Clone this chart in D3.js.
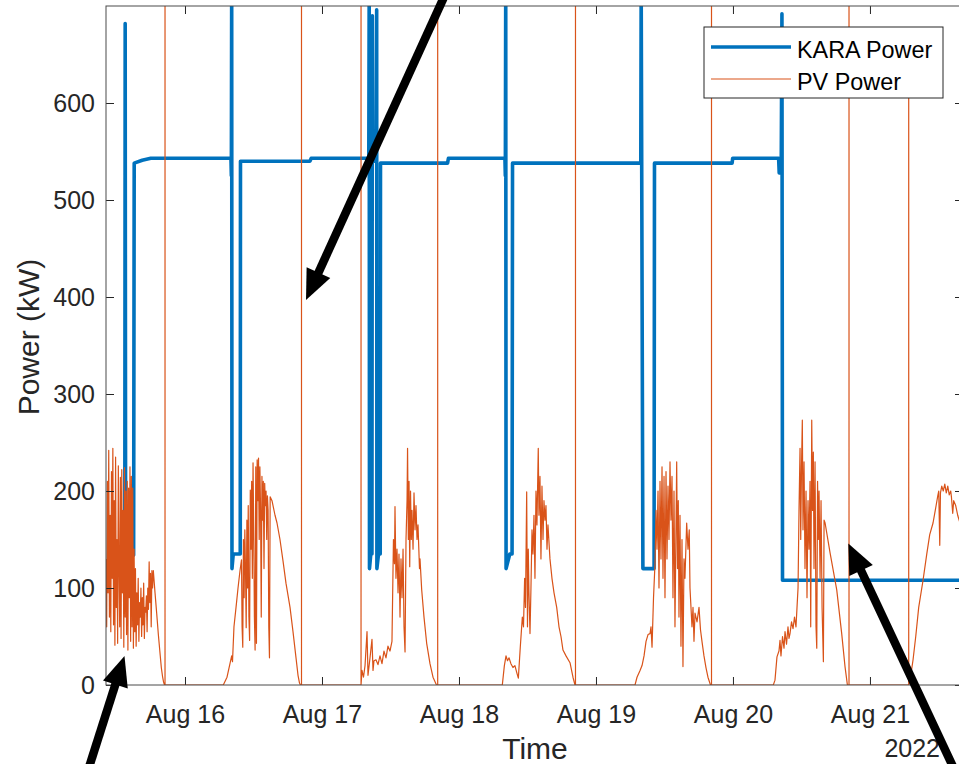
<!DOCTYPE html>
<html lang="en">
<head>
<meta charset="utf-8">
<title>KARA Power and PV Power</title>
<script src="https://cdn.jsdelivr.net/npm/d3@7"></script>
<style>
  body { margin: 0; background: #fff; }
  svg { display: block; font-family: "Liberation Sans", Arial, Helvetica, sans-serif; }
</style>
</head>
<body>
<script>
// times are hours after 15 Aug 2022 00:00
var start = new Date(2022, 7, 15);
var timeWindow = [10.16, 160.3];
var powerDomain = [0, 700];
var powerTicks = [0, 100, 200, 300, 400, 500, 600];
var dayTicks = [24, 48, 72, 96, 120, 144];
var dayLabels = ["Aug 16", "Aug 17", "Aug 18", "Aug 19", "Aug 20", "Aug 21"];
var yearLabel = "2022";
var seriesNames = ["KARA Power", "PV Power"];

// [hour, kW]
var karaPower = [
  [13.45,113],[13.52,682],[13.60,113],[14.30,130],[15.00,134],[15.10,538],[16.5,541],[18.0,543],
  [32.05,543],[32.12,525],[32.18,720],[32.23,120],[32.45,135],[33.68,135],[33.72,540],
  [45.90,540],[46.10,543],[56.20,543],[56.27,720],[56.32,120],[56.55,135],[56.75,135],
  [56.82,690],[56.90,540],[57.50,540],[57.58,696],[57.62,120],[57.90,135],[58.20,135],[58.25,538],
  [70.00,538],[70.15,543],[80.05,543],[80.12,525],[80.19,720],[80.25,120],[80.90,135],[81.30,135],[81.38,538],
  [103.85,538],[103.92,720],[104.22,120],[106.18,120],[106.25,538],
  [119.85,538],[119.95,543],[128.00,543],[128.10,528],[128.45,528],[128.58,692],[128.68,108],[161.0,108]
];

var pvPower = [
  // Aug 15
  [10.16,130],[10.28,60],[10.40,210],[10.52,95],[10.64,242],[10.76,70],[10.88,175],[11.00,55],[11.12,220],
  [11.24,110],[11.36,244],[11.48,62],[11.60,190],[11.72,41],[11.84,235],[11.96,80],[12.08,150],[12.20,43],
  [12.32,226],[12.44,120],[12.56,60],[12.68,214],[12.80,48],[12.92,222],[13.04,95],[13.16,180],[13.28,39],
  [13.40,224],[13.52,70],[13.64,200],[13.76,52],[13.88,210],[14.00,36],[14.12,203],[14.24,90],[14.36,225],
  [14.48,45],[14.60,215],[14.72,60],[14.84,203],[14.96,38],[15.08,140],[15.20,55],[15.32,120],[15.44,40],
  [15.56,95],[15.68,62],[15.80,110],[15.92,45],[16.04,85],[16.16,70],[16.28,100],[16.40,50],[16.52,90],
  [16.64,62],[16.76,105],[16.88,48],[17.00,80],[17.12,75],[17.24,92],[17.36,55],[17.48,100],[17.60,78],
  [17.72,127],[17.84,85],[17.96,115],[18.08,60],[18.20,118],[18.32,100],[18.45,118],[18.75,95],[19.04,74],
  [19.33,52],[19.62,33],[19.85,18],[20.06,9],[20.25,3],[20.41,0],
  [20.50,0],[20.50,5000],[20.50,0],
  // Aug 16
  [30.71,0],[31.36,8],[31.88,22],[32.18,30],[32.32,24],[32.58,60],[32.94,80],[33.29,100],[33.64,118],[33.90,129],
  [34.00,60],[34.12,39],[34.24,150],[34.36,90],[34.48,160],[34.60,120],[34.72,59],[34.84,170],[34.96,100],
  [35.08,185],[35.20,70],[35.32,46],[35.44,201],[35.56,140],[35.68,210],[35.80,110],[35.92,229],[36.04,160],
  [36.16,70],[36.28,36],[36.40,225],[36.52,43],[36.64,232],[36.76,190],[36.88,234],[37.00,150],[37.12,225],
  [37.24,180],[37.36,70],[37.48,215],[37.60,170],[37.72,210],[37.84,120],[37.96,208],[38.08,185],[38.20,200],
  [38.32,150],[38.44,195],[38.56,180],[38.68,60],[38.80,28],[38.92,194],
  [39.24,190],[39.77,175],[40.12,167],[40.64,150],[41.17,128],[41.69,105],[42.40,80],[42.92,55],[43.45,28],
  [43.80,10],[44.06,2],[44.23,0],
  [44.41,0],[44.41,5000],[44.41,0],
  // Aug 17
  [54.84,0],[54.84,5000],[54.84,0],
  [55.01,15],[55.27,8],[55.54,20],[55.89,55],[56.06,10],[56.41,28],[56.76,47],[56.94,15],[57.11,25],[57.46,26],
  [57.81,21],[58.16,30],[58.51,22],[58.86,35],[59.21,28],[59.56,40],[59.91,35],[60.26,45],[60.52,150],[60.70,125],
  [60.79,184],[60.96,110],[61.14,140],[61.32,95],[61.49,135],[61.67,70],[61.84,130],[62.02,90],[62.20,140],
  [62.37,60],[62.55,34],[62.72,150],[62.90,190],[62.99,244],[63.13,150],[63.25,210],[63.37,122],[63.51,200],
  [63.65,150],[63.77,180],[63.95,140],[64.12,198],[64.30,160],[64.47,185],[64.65,150],[64.82,165],[65.08,120],
  [65.17,130],[65.47,98],[65.87,70],[66.34,43],[66.92,22],[67.45,8],[68.06,0],
  [68.27,0],[68.27,5000],[68.27,0],
  // Aug 18
  [79.59,0],[79.95,20],[80.24,30],[80.50,25],[80.77,28],[81.10,22],[81.46,18],[81.80,20],[82.16,12],[82.40,7],
  [82.75,40],[83.10,70],[83.30,60],[83.50,110],[83.65,80],[83.86,199],[84.00,60],[84.14,140],[84.26,95],
  [84.44,53],[84.61,100],[84.79,160],[84.96,135],[85.14,175],[85.31,110],[85.49,200],[85.66,165],[85.89,244],
  [86.01,175],[86.19,215],[86.36,130],[86.54,205],[86.72,150],[86.89,190],[87.07,170],[87.24,185],[87.42,140],
  [87.59,165],[87.94,130],[88.29,110],[88.65,95],[89.12,80],[89.52,60],[89.87,50],[90.22,36],[90.75,30],
  [91.45,23],[91.97,8],[92.32,0],
  [92.41,0],[92.41,5000],[92.41,0],
  // Aug 19
  [102.84,0],[103.19,8],[103.72,15],[104.07,20],[104.42,30],[104.77,45],[105.12,52],[105.47,53],[105.64,60],
  [105.82,39],[106.08,90],[106.34,125],[106.52,180],[106.69,140],[106.87,200],[107.04,100],[107.22,210],
  [107.39,130],[107.57,225],[107.74,110],[107.92,215],[108.09,90],[108.27,220],[108.44,130],[108.62,205],
  [108.79,150],[108.97,230],[109.14,170],[109.32,215],[109.49,90],[109.67,200],[109.84,60],[110.14,230],
  [110.28,120],[110.42,190],[110.54,70],[110.72,175],[110.89,40],[111.07,150],[111.24,19],[111.42,130],
  [111.59,110],[111.89,167],[112.12,140],[112.34,160],[112.47,100],[112.82,60],[113.00,80],[113.17,45],
  [113.35,74],[113.70,65],[114.05,80],[114.31,57],[114.57,45],[114.92,30],[115.27,18],[115.62,8],[116.06,0],
  [116.24,0],[116.24,5000],[116.24,0],
  // Aug 20
  [127.07,0],[127.36,5],[127.71,29],[128.06,35],[128.24,46],[128.41,30],[128.68,50],[128.94,38],[129.12,55],
  [129.38,42],[129.64,60],[129.82,48],[129.99,53],[130.26,65],[130.52,58],[130.78,70],[131.04,60],[131.22,80],
  [131.40,100],[131.57,180],[131.75,244],[131.87,150],[132.01,225],[132.15,273],[132.27,160],[132.45,230],
  [132.62,120],[132.80,200],[132.97,90],[133.15,190],[133.32,140],[133.50,210],[133.62,60],[133.80,273],
  [133.94,180],[134.08,240],[134.20,120],[134.38,230],[134.55,60],[134.68,38],[134.82,210],[134.96,150],
  [135.08,200],[135.26,110],[135.43,190],[135.61,80],[135.84,24],[135.96,170],[136.14,167],[137.02,136],
  [138.18,98],[139.05,53],[139.63,19],[140.05,0],
  [140.33,0],[140.33,5000],[140.33,0],
  // Aug 21
  [150.79,0],[150.79,650],[150.79,0],[150.97,3],[151.55,26],[152.02,50],[152.54,80],[153.30,108],[153.95,135],
  [154.47,155],[155.05,167],[155.53,183],[155.88,195],[156.05,200],[156.23,144],[156.35,198],[156.58,205],
  [156.84,200],[157.11,207],[157.37,198],[157.63,205],[157.89,196],[158.15,200],[158.27,194],[158.50,177],
  [158.67,190],[159.02,185],[159.37,175],[159.72,168],[160.25,160]
];

// annotation arrows, [hour, kW] of tail and tip
var arrowTails = [[69.9,716], [6.74,-93], [159.25,-93]];
var arrowTips  = [[45.2,397], [13.40,30], [140.21,146]];

var width = 959, height = 764;
var plotLeft = 106, plotRight = 963, plotTop = 6, plotBottom = 685;

function toDate(h) { return new Date(start.getTime() + h * 3600 * 1000); }

var svg = d3.select("body").append("svg")
    .attr("width", width)
    .attr("height", height);

var x = d3.scaleTime()
    .domain(timeWindow.map(toDate))
    .range([plotLeft, plotRight]);

var y = d3.scaleLinear()
    .domain(powerDomain)
    .range([plotBottom, plotTop]);

svg.append("clipPath").attr("id", "plotclip")
  .append("rect")
    .attr("x", plotLeft).attr("y", plotTop)
    .attr("width", plotRight - plotLeft).attr("height", plotBottom - plotTop);

var line = d3.line()
    .x(function(d) { return x(toDate(d[0])); })
    .y(function(d) { return y(d[1]); });

var plot = svg.append("g").attr("clip-path", "url(#plotclip)");

plot.append("path")
    .datum(karaPower)
    .attr("d", line)
    .attr("fill", "none")
    .attr("stroke", "#0072BD")
    .attr("stroke-width", 3.6)
    .attr("stroke-linejoin", "round");

plot.append("path")
    .datum(pvPower)
    .attr("d", line)
    .attr("fill", "none")
    .attr("stroke", "#D95319")
    .attr("stroke-width", 1.2)
    .attr("stroke-linejoin", "round");

// axes
var axisColor = "#262626";
var dayDates = dayTicks.map(toDate);

var xAxis = d3.axisBottom(x)
    .tickValues(dayDates)
    .tickFormat(function(d, i) { return dayLabels[i]; })
    .tickSizeInner(-8).tickSizeOuter(0).tickPadding(20);
var yAxis = d3.axisLeft(y)
    .tickValues(powerTicks)
    .tickSizeInner(-8).tickSizeOuter(0).tickPadding(11);

function styleAxis(g) {
  g.select(".domain").remove();
  g.selectAll("line").attr("stroke", axisColor);
  g.selectAll("text").attr("fill", axisColor).style("font-size", "25px");
}

svg.append("g").attr("transform", "translate(0," + plotBottom + ")").call(xAxis).call(styleAxis);
svg.append("g").attr("transform", "translate(" + plotLeft + ",0)").call(yAxis).call(styleAxis);
svg.append("g").attr("transform", "translate(0," + plotTop + ")")
    .call(d3.axisTop(x).tickValues(dayDates).tickFormat("").tickSizeInner(-8).tickSizeOuter(0))
    .call(styleAxis);
svg.append("g").attr("transform", "translate(" + plotRight + ",0)")
    .call(d3.axisRight(y).tickValues(powerTicks).tickFormat("").tickSizeInner(-8).tickSizeOuter(0))
    .call(styleAxis);

svg.append("rect")
    .attr("x", plotLeft).attr("y", plotTop)
    .attr("width", plotRight - plotLeft).attr("height", plotBottom - plotTop)
    .attr("fill", "none")
    .attr("stroke", "#4a4a4a")
    .attr("stroke-width", 1);

svg.append("text")
    .attr("x", 940).attr("y", 757)
    .attr("text-anchor", "end")
    .attr("fill", axisColor)
    .style("font-size", "25px")
    .text(yearLabel);

svg.append("text")
    .attr("x", 535).attr("y", 759)
    .attr("text-anchor", "middle")
    .attr("fill", axisColor)
    .style("font-size", "30px")
    .text("Time");

svg.append("text")
    .attr("transform", "translate(39,337) rotate(-90)")
    .attr("text-anchor", "middle")
    .attr("fill", axisColor)
    .style("font-size", "30px")
    .text("Power (kW)");

// legend
var legend = svg.append("g");
legend.append("rect")
    .attr("x", 704).attr("y", 27)
    .attr("width", 239).attr("height", 71)
    .attr("fill", "#fff")
    .attr("stroke", axisColor)
    .attr("stroke-width", 1);
var legendColors = ["#0072BD", "#D95319"];
var legendWidths = [3.6, 1.2];
seriesNames.forEach(function(name, i) {
  var cy = 47 + i * 32;
  legend.append("line")
      .attr("x1", 711).attr("x2", 791)
      .attr("y1", cy).attr("y2", cy)
      .attr("stroke", legendColors[i])
      .attr("stroke-width", legendWidths[i]);
  legend.append("text")
      .attr("x", 797).attr("y", cy + 11)
      .attr("fill", "#000")
      .style("font-size", "23.4px")
      .text(name);
});

// arrows
var headLen = 30, headWidth = 26;
arrowTails.forEach(function(t, i) {
  var p = arrowTips[i];
  var x0 = x(toDate(t[0])), y0 = y(t[1]);
  var x1 = x(toDate(p[0])), y1 = y(p[1]);
  var dx = x1 - x0, dy = y1 - y0, len = Math.sqrt(dx * dx + dy * dy);
  var ux = dx / len, uy = dy / len;
  var bx = x1 - ux * headLen, by = y1 - uy * headLen;
  svg.append("line")
      .attr("x1", x0).attr("y1", y0)
      .attr("x2", bx + ux * 2).attr("y2", by + uy * 2)
      .attr("stroke", "#000")
      .attr("stroke-width", 8.5);
  svg.append("polygon")
      .attr("points", [
        [x1, y1],
        [bx - uy * headWidth / 2, by + ux * headWidth / 2],
        [bx + uy * headWidth / 2, by - ux * headWidth / 2]
      ].map(function(q) { return q.join(","); }).join(" "))
      .attr("fill", "#000");
});
</script>
</body>
</html>
